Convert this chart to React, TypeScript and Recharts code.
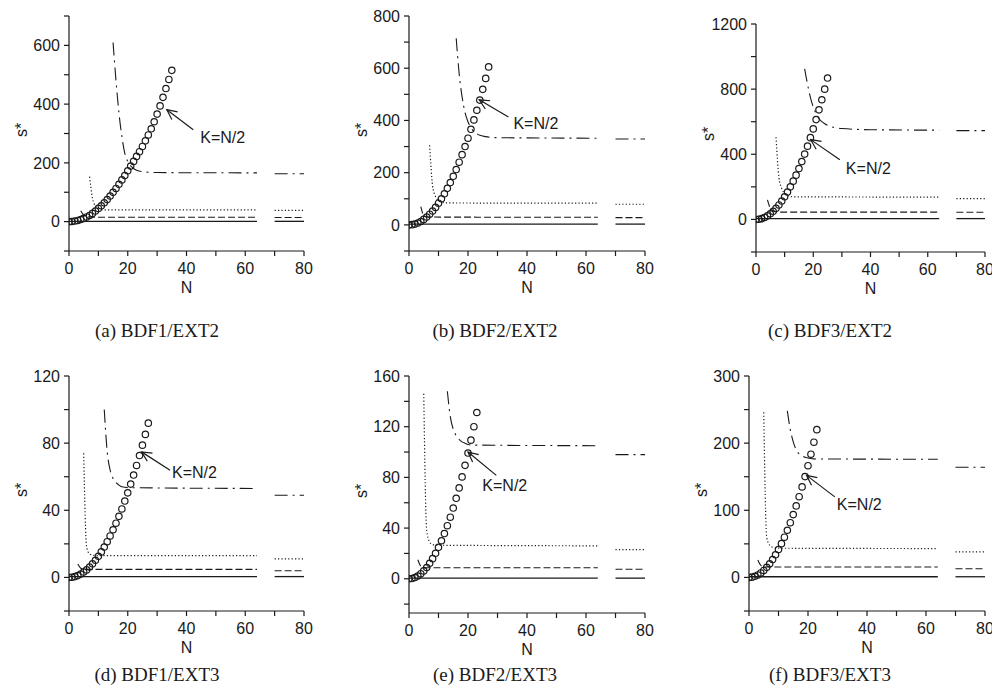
import React from 'react';
import { ComposedChart, Line, Scatter, XAxis, YAxis, ReferenceLine } from 'recharts';

// shared x axis
const xTicks = [0, 10, 20, 30, 40, 50, 60, 70, 80];
const xLabels = [0, 20, 40, 60, 80];
const tailN = [70, 80];

// (a) BDF1/EXT2
const circA = [0, 0.5, 2, 4, 7, 11, 16, 21, 28, 36, 45, 54, 64, 75, 87, 100, 113, 127, 142, 157, 173, 189, 205, 222, 238, 256, 275, 295, 316, 340, 366, 394, 423, 453, 484, 515];
const dashNA = [4, 5, 6, 7, 8, 64];
const dashSA = [37, 22, 17, 15.5, 15, 15];
const dotNA = [7, 8, 9, 10, 11, 12, 64];
const dotSA = [153, 80, 52, 43, 41, 40, 40];
const ddNA = [15, 16, 17, 18, 19, 20, 21, 22, 23, 25, 30, 64];
const ddSA = [610, 480, 370, 290, 232, 205, 190, 181, 175, 170, 167, 166];
const flatA = [1, 15, 40, 166]; // solid, dashed, dotted, dash-dot levels
const tailA = [1, 14, 38, 163];

// (b) BDF2/EXT2
const circB = [0, 1, 3, 7, 13, 21, 30, 41, 53, 67, 83, 100, 119, 140, 162, 186, 212, 240, 269, 300, 332, 366, 402, 439, 478, 519, 561, 605];
const dashNB = [4, 5, 6, 7, 64];
const dashSB = [70, 36, 31, 30, 29];
const dotNB = [7, 8, 9, 10, 11, 12, 14, 64];
const dotSB = [305, 150, 108, 94, 88, 85, 84, 83];
const ddNB = [16, 17, 18, 19, 20, 21, 22, 23, 24, 26, 30, 64];
const ddSB = [715, 580, 490, 430, 395, 372, 358, 349, 343, 338, 334, 332];
const flatB = [3, 29, 83, 332];
const tailB = [3, 28, 79, 329];

// (c) BDF3/EXT2
const circC = [0, 1, 5, 12, 22, 35, 50, 68, 89, 113, 139, 168, 200, 235, 272, 312, 355, 401, 450, 502, 556, 613, 673, 735, 800, 868];
const dashNC = [4, 5, 6, 7, 8, 64];
const dashSC = [120, 68, 52, 47, 45, 45];
const dotNC = [7, 8, 9, 10, 11, 12, 13, 64];
const dotSC = [505, 260, 190, 160, 147, 141, 139, 137];
const ddNC = [17, 18, 19, 20, 21, 22, 23, 24, 25, 27, 30, 40, 64];
const ddSC = [925, 830, 750, 690, 650, 620, 600, 588, 578, 566, 558, 551, 548];
const flatC = [5, 45, 137, 548];
const tailC = [5, 44, 128, 545];

// (d) BDF1/EXT3
const circD = [0, 0.1, 0.5, 1.1, 2, 3.2, 4.5, 6.2, 8.1, 10.2, 12.6, 15.2, 18.1, 21.3, 24.7, 28.4, 32.3, 36.4, 40.8, 45.5, 50.4, 55.6, 61, 66.7, 72.6, 78.8, 85.2, 91.9];
const dashND = [3, 4, 5, 6, 64];
const dashSD = [8, 5.5, 5, 4.8, 4.8];
const dotND = [5, 6, 7, 8, 10, 64];
const dotSD = [74, 18, 14, 13.3, 13, 13];
const ddND = [12, 13, 14, 15, 16, 17, 18, 20, 64];
const ddSD = [100, 75, 64, 59, 56.5, 55, 54, 53.5, 53];
const flatD = [0.5, 4.8, 13, 53];
const tailD = [0.5, 4, 11, 49];

// (e) BDF2/EXT3
const circE = [0, 0.2, 1, 2.2, 4, 6.2, 8.9, 12.2, 15.9, 20.1, 24.8, 30, 35.7, 41.9, 48.6, 55.8, 63.5, 71.7, 80.4, 89.5, 99.2, 109.4, 120, 131.2];
const dashNE = [3, 4, 5, 6, 64];
const dashSE = [15, 10, 9, 8.7, 8.7];
const dotNE = [5, 6, 7, 8, 9, 64];
const dotSE = [146, 38, 29, 27, 26.5, 26];
const ddNE = [13, 14, 15, 16, 17, 18, 19, 20, 22, 64];
const ddSE = [148, 128, 118, 113, 110, 108, 107, 106, 105.5, 105];
const flatE = [0.5, 8.7, 26, 105];
const tailE = [0.5, 7.5, 23, 98];

// (f) BDF3/EXT3
const circF = [0, 0.4, 1.7, 3.7, 6.7, 10.4, 15, 20.4, 26.6, 33.7, 41.6, 50.3, 59.9, 70.3, 81.5, 93.6, 106.5, 120.2, 134.8, 150.2, 166.4, 183.5, 201.4, 220.1];
const dashNF = [3, 4, 5, 6, 64];
const dashSF = [26, 18, 16, 15.5, 15.5];
const dotNF = [5, 6, 7, 8, 9, 10, 64];
const dotSF = [246, 60, 48, 45, 44, 43.5, 43];
const ddNF = [13, 14, 15, 16, 17, 18, 19, 20, 22, 64];
const ddSF = [248, 220, 202, 190, 184, 181, 179, 178, 176.5, 176];
const flatF = [1, 15.5, 43, 176];
const tailF = [1, 13, 38, 164];

// y axes
const yDomA = [-100, 700]; const yTicksA = [-100, 0, 100, 200, 300, 400, 500, 600, 700]; const yLabA = [0, 200, 400, 600];
const yDomB = [-100, 800]; const yTicksB = [-100, 0, 100, 200, 300, 400, 500, 600, 700, 800]; const yLabB = [0, 200, 400, 600, 800];
const yDomC = [-200, 1200]; const yTicksC = [-200, 0, 200, 400, 600, 800, 1000, 1200]; const yLabC = [0, 400, 800, 1200];
const yDomD = [-20, 120]; const yTicksD = [-20, 0, 20, 40, 60, 80, 100, 120]; const yLabD = [0, 40, 80, 120];
const yDomE = [-27, 160]; const yTicksE = [-20, 0, 20, 40, 60, 80, 100, 120, 140, 160]; const yLabE = [0, 40, 80, 120, 160];
const yDomF = [-50, 300]; const yTicksF = [-50, 0, 50, 100, 150, 200, 250, 300]; const yLabF = [0, 100, 200, 300];

// "K=N/2" arrows: [tail N, tail s*, tip N, tip s*]
const arrowA = [42.3, 313, 33.3, 381];
const arrowB = [33.7, 413, 23.8, 479];
const arrowC = [29.3, 367, 19.1, 490];
const arrowD = [34.4, 63.9, 24.7, 74.8];
const arrowE = [29.6, 81.6, 20.0, 100];
const arrowF = [29.1, 120, 19.5, 152];

const pts = (ns: number[], ss: number[]) => ns.map((n, i) => ({ n, s: ss[i] }));
const flat = (n0: number, v: number) => pts([n0, 64], [v, v]);

const panels = [
  { caption: '(a) BDF1/EXT2', box: { x: 69, y: 16, w: 235, h: 235 }, circ: circA, dash: pts(dashNA, dashSA), dot: pts(dotNA, dotSA), dd: pts(ddNA, ddSA), flat: flatA, tail: tailA, yDom: yDomA, yTicks: yTicksA, yLab: yLabA, arrow: arrowA, txt: [7, 8], capX: 157, capY: 331 },
  { caption: '(b) BDF2/EXT2', box: { x: 409, y: 16, w: 236, h: 235 }, circ: circB, dash: pts(dashNB, dashSB), dot: pts(dotNB, dotSB), dd: pts(ddNB, ddSB), flat: flatB, tail: tailB, yDom: yDomB, yTicks: yTicksB, yLab: yLabB, arrow: arrowB, txt: [5, 6], capX: 495, capY: 331 },
  { caption: '(c) BDF3/EXT2', box: { x: 756, y: 24, w: 229, h: 228 }, circ: circC, dash: pts(dashNC, dashSC), dot: pts(dotNC, dotSC), dd: pts(ddNC, ddSC), flat: flatC, tail: tailC, yDom: yDomC, yTicks: yTicksC, yLab: yLabC, arrow: arrowC, txt: [6, 9], capX: 830, capY: 331 },
  { caption: '(d) BDF1/EXT3', box: { x: 69, y: 376, w: 235, h: 235 }, circ: circD, dash: pts(dashND, dashSD), dot: pts(dotND, dotSD), dd: pts(ddND, ddSD), flat: flatD, tail: tailD, yDom: yDomD, yTicks: yTicksD, yLab: yLabD, arrow: arrowD, txt: [2, 2], capX: 157, capY: 675 },
  { caption: '(e) BDF2/EXT3', box: { x: 409, y: 376, w: 236, h: 237 }, circ: circE, dash: pts(dashNE, dashSE), dot: pts(dotNE, dotSE), dd: pts(ddNE, ddSE), flat: flatE, tail: tailE, yDom: yDomE, yTicks: yTicksE, yLab: yLabE, arrow: arrowE, txt: [-14, 10], capX: 495, capY: 675 },
  { caption: '(f) BDF3/EXT3', box: { x: 749, y: 376, w: 236, h: 235 }, circ: circF, dash: pts(dashNF, dashSF), dot: pts(dotNF, dotSF), dd: pts(ddNF, ddSF), flat: flatF, tail: tailF, yDom: yDomF, yTicks: yTicksF, yLab: yLabF, arrow: arrowF, txt: [2, 8], capX: 830, capY: 675 },
];

const INK = '#1a1a1a';
const SANS = '"Liberation Sans", Arial, sans-serif';
const tickStyle = { fontSize: 16, fill: INK, fontFamily: SANS };

const Ring = (p: any) => (
  <circle cx={p.cx} cy={p.cy} r={3.2} fill="none" stroke={INK} strokeWidth={1.2} />
);

const makeArrow = (dx: number, dy: number) => (p: any) => {
  const { x1, y1, x2, y2 } = p;
  const a = Math.atan2(y2 - y1, x2 - x1);
  const L = 11;
  const h = 0.45;
  const ax = x2 - L * Math.cos(a - h);
  const ay = y2 - L * Math.sin(a - h);
  const bx = x2 - L * Math.cos(a + h);
  const by = y2 - L * Math.sin(a + h);
  return (
    <g>
      <line x1={x1} y1={y1} x2={x2} y2={y2} stroke={INK} strokeWidth={1.2} />
      <polyline points={`${ax},${ay} ${x2},${y2} ${bx},${by}`} fill="none" stroke={INK} strokeWidth={1.2} />
      <text x={x1 + dx} y={y1 + dy} dominantBaseline="central" fontSize={16} fill={INK} fontFamily={SANS}>K=N/2</text>
    </g>
  );
};

const ML = 60;
const MT = 10;
const MR = 15;
const XH = 50;

function Panel({ p }: { p: typeof panels[number] }) {
  const { box } = p;
  const circData = p.circ.map((s, n) => ({ n, s }));
  const lines = [
    { data: flat(0, p.flat[0]), dash: undefined, w: 1.3 },
    { data: p.dash, dash: '7 3', w: 1.1 },
    { data: p.dot, dash: '1.2 2.2', w: 1.2 },
    { data: p.dd, dash: '13 5 2 5', w: 1.1 },
  ];
  return (
    <>
      <div style={{ position: 'absolute', left: box.x - ML, top: box.y - MT }}>
        <ComposedChart width={box.w + ML + MR} height={box.h + MT + XH} margin={{ top: MT, right: MR, bottom: 0, left: 0 }}>
          <XAxis
            type="number"
            dataKey="n"
            domain={[0, 80]}
            ticks={xTicks}
            interval={0}
            tickFormatter={(v: number) => (xLabels.includes(v) ? String(v) : '')}
            tick={tickStyle}
            tickSize={5}
            tickMargin={7}
            height={XH}
            axisLine={{ stroke: INK, strokeWidth: 1.2 }}
            tickLine={{ stroke: INK, strokeWidth: 1.2 }}
            allowDataOverflow
            label={{ value: 'N', position: 'insideBottom', offset: 8, style: { fontSize: 16, fill: INK, fontFamily: SANS } }}
          />
          <YAxis
            type="number"
            dataKey="s"
            domain={p.yDom}
            ticks={p.yTicks}
            interval={0}
            tickFormatter={(v: number) => (p.yLab.includes(v) ? String(v) : '')}
            tick={tickStyle}
            tickSize={5}
            tickMargin={4}
            width={ML}
            axisLine={{ stroke: INK, strokeWidth: 1.2 }}
            tickLine={{ stroke: INK, strokeWidth: 1.2 }}
            allowDataOverflow
          />
          {lines.map((l, i) => (
            <Line key={'m' + i} data={l.data} dataKey="s" type="monotone" stroke={INK} strokeWidth={l.w} strokeDasharray={l.dash} dot={false} activeDot={false} isAnimationActive={false} />
          ))}
          {lines.map((l, i) => (
            <Line key={'t' + i} data={pts(tailN, [p.tail[i], p.tail[i]])} dataKey="s" type="linear" stroke={INK} strokeWidth={l.w} strokeDasharray={l.dash} dot={false} activeDot={false} isAnimationActive={false} />
          ))}
          <Scatter data={circData} dataKey="s" shape={Ring} isAnimationActive={false} />
          <ReferenceLine
            segment={[{ x: p.arrow[0], y: p.arrow[1] }, { x: p.arrow[2], y: p.arrow[3] }]}
            ifOverflow="visible"
            shape={makeArrow(p.txt[0], p.txt[1])}
          />
        </ComposedChart>
      </div>
      <div style={{ position: 'absolute', left: box.x - 47, top: box.y + box.h / 2 - 4, transform: 'translate(-50%, -50%) rotate(-90deg)', fontFamily: SANS, fontSize: 16, color: INK, whiteSpace: 'nowrap' }}>s*</div>
      <div style={{ position: 'absolute', left: p.capX, top: p.capY, transform: 'translate(-50%, -50%)', fontFamily: '"Liberation Serif", "DejaVu Serif", serif', fontSize: 19, color: INK, whiteSpace: 'nowrap' }}>{p.caption}</div>
    </>
  );
}

export default function App() {
  return (
    <div style={{ position: 'absolute', left: 0, top: 0, width: 992, height: 698, overflow: 'hidden', background: '#fff' }}>
      {panels.map((p) => (
        <Panel key={p.caption} p={p} />
      ))}
    </div>
  );
}
